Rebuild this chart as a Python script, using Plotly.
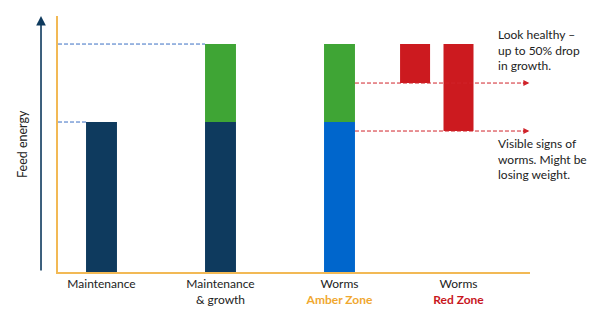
import plotly.graph_objects as go

# Categories along the x axis (positions 0..3)
categories = ["Maintenance", "Maintenance<br>& growth",
              "Worms<br><b><span style='color:#F0A830'>Amber Zone</span></b>",
              "Worms<br><b><span style='color:#C8161D'>Red Zone</span></b>"]
cat_pos = [0, 1, 2, 3]

# Feed energy (arbitrary units)
maintenance = [10, 10, 10]          # first three columns
growth = [0, 5.2, 5.2]              # growth stacked on maintenance
maint_colors = ["#0E3A5E", "#0E3A5E", "#0066CC"]

# Red zone: drops from the full requirement
red_pos = [2.635, 3.0]
red_drop = [2.6, 5.8]

total = maintenance[1] + growth[1]

notes = ["Look healthy –<br>up to 50% drop<br>in growth.",
         "Visible signs of<br>worms. Might be<br>losing weight."]

BAR_W = 0.26
X_RANGE = [-0.3655, 3.6008]
Y_RANGE = [0, 17.07]

NAVY = "#0E3A5E"
GREEN = "#3FA535"
RED = "#CC1A1F"
ORANGE = "#F2B955"
DASH_BLUE = "#3A6FC4"
DASH_RED = "#D0232A"
FONT = "Lato"

fig = go.Figure()

fig.add_trace(go.Bar(x=cat_pos[:3], y=maintenance, width=BAR_W,
                     marker=dict(color=maint_colors, line=dict(width=0)),
                     showlegend=False, hoverinfo="skip"))
fig.add_trace(go.Bar(x=cat_pos[:3], y=growth, base=maintenance, width=BAR_W,
                     marker=dict(color=GREEN, line=dict(width=0)),
                     showlegend=False, hoverinfo="skip"))
fig.add_trace(go.Bar(x=red_pos, y=[-d for d in red_drop], base=[total, total],
                     width=BAR_W * 0.97,
                     marker=dict(color=RED, line=dict(width=0)),
                     showlegend=False, hoverinfo="skip"))

shapes = []
# Blue guide lines from the axis to the first bars
shapes.append(dict(type="line", xref="x", yref="y",
                   x0=X_RANGE[0], x1=cat_pos[0] - BAR_W / 2,
                   y0=maintenance[0], y1=maintenance[0],
                   line=dict(color=DASH_BLUE, width=1, dash="4px,2px")))
shapes.append(dict(type="line", xref="x", yref="y",
                   x0=X_RANGE[0], x1=cat_pos[1] - BAR_W / 2,
                   y0=total, y1=total,
                   line=dict(color=DASH_BLUE, width=1, dash="4px,2px")))

# Red dashed arrows at the reduced energy levels
annotations = []
for d in red_drop:
    lvl = total - d
    shapes.append(dict(type="line", xref="x", yref="y",
                       x0=cat_pos[2] + BAR_W / 2, x1=X_RANGE[1] - 0.04,
                       y0=lvl, y1=lvl,
                       line=dict(color=DASH_RED, width=1, dash="4px,2px")))
    annotations.append(dict(xref="x", yref="y", x=X_RANGE[1] - 0.005, y=lvl,
                            ax=-8, ay=0, showarrow=True, arrowhead=2,
                            arrowsize=1, arrowwidth=1.2, arrowcolor=DASH_RED,
                            text=""))

# Vertical feed-energy arrow left of the axis
annotations.append(dict(xref="paper", yref="paper", x=-0.036, y=1.0,
                        ax=0, ay=256, showarrow=True, arrowhead=2,
                        arrowsize=1.2, arrowwidth=1.6, arrowcolor=NAVY, text=""))
annotations.append(dict(xref="paper", yref="paper", x=-0.0763, y=0.5,
                        xanchor="center", yanchor="middle",
                        text="Feed energy", textangle=-90, showarrow=False,
                        font=dict(family=FONT, size=12.5, color="#222")))

# Side notes
for txt, yp in zip(notes, [0.867, 0.44]):
    annotations.append(dict(xref="paper", yref="paper", x=0.928, y=yp,
                            xanchor="left", yanchor="middle", align="left",
                            text=txt, showarrow=False,
                            font=dict(family=FONT, size=12, color="#222")))

fig.update_layout(
    width=600, height=322,
    margin=dict(l=58, r=70, t=16, b=50),
    paper_bgcolor="white", plot_bgcolor="white",
    barmode="overlay",
    shapes=shapes, annotations=annotations,
    font=dict(family=FONT, size=12, color="#222"),
    xaxis=dict(range=X_RANGE, tickvals=cat_pos, ticktext=categories,
               showgrid=False, zeroline=False, showline=True,
               linecolor=ORANGE, linewidth=2, ticks="",
               tickfont=dict(family=FONT, size=12, color="#222")),
    yaxis=dict(range=Y_RANGE, showticklabels=False, showgrid=False,
               zeroline=False, showline=True, linecolor=ORANGE, linewidth=2,
               ticks=""),
)

fig.write_html("out.html")
